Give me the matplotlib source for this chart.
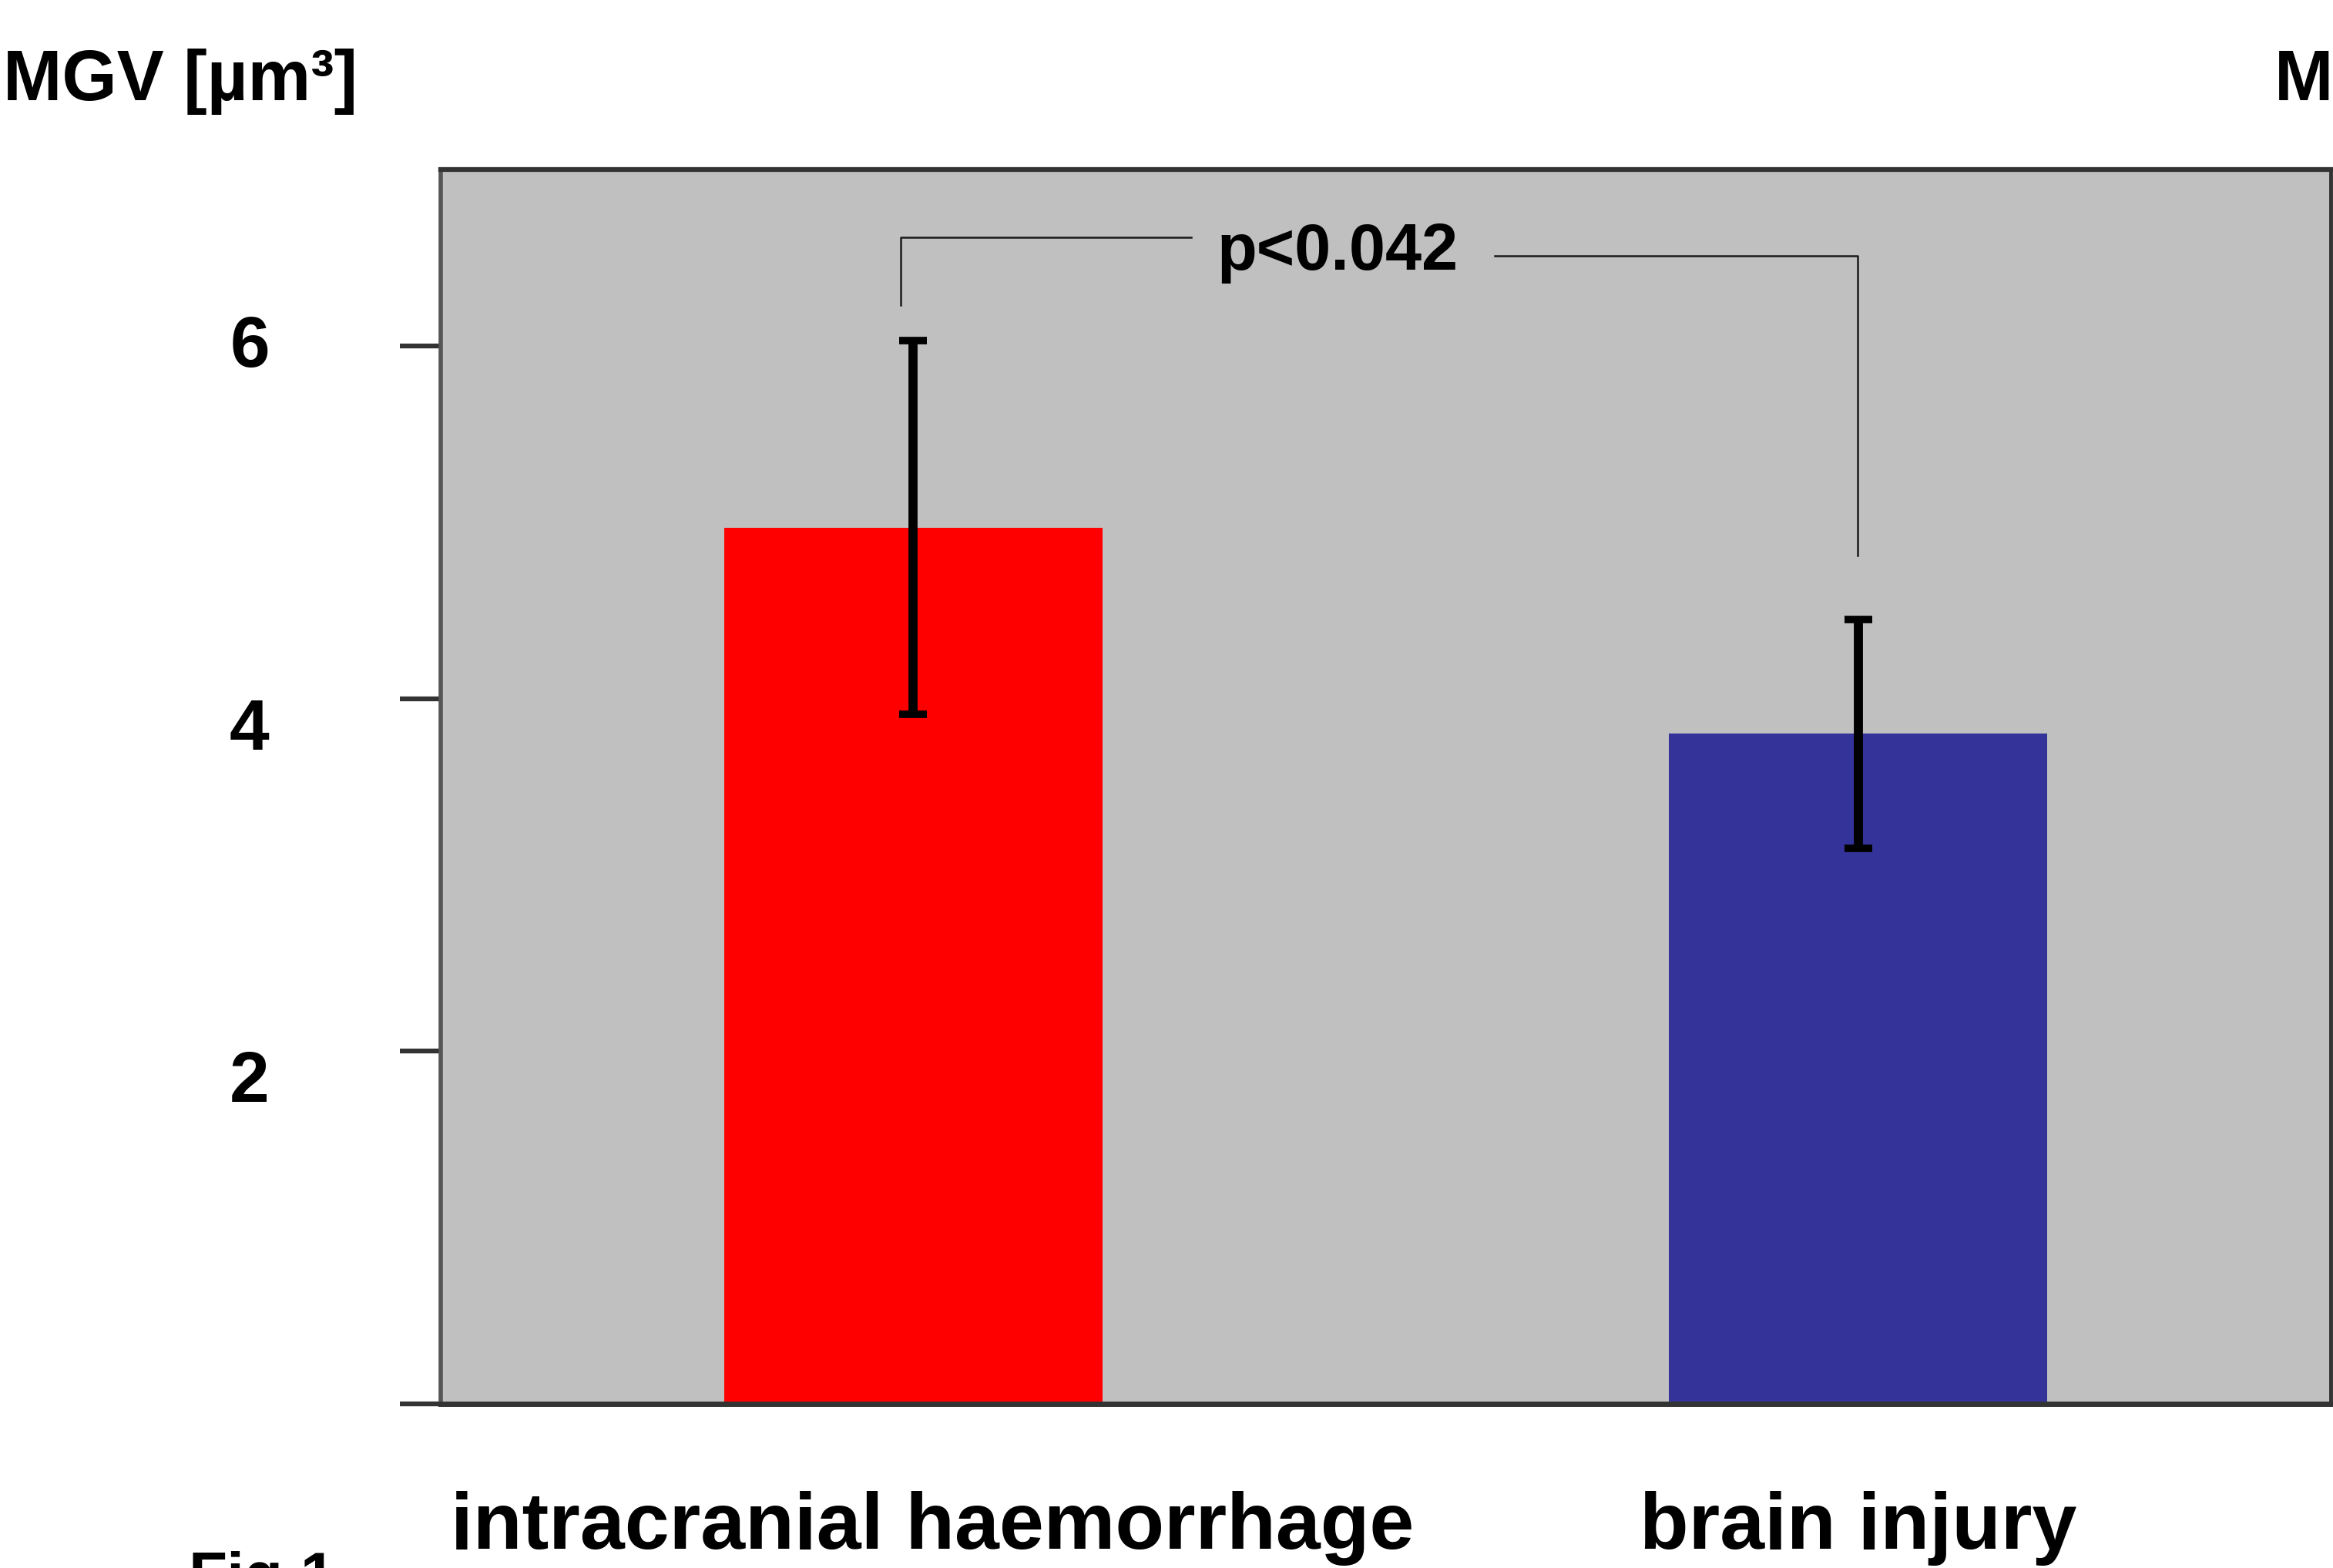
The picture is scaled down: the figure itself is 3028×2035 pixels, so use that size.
import matplotlib
matplotlib.use("Agg")
import matplotlib.pyplot as plt
import matplotlib.transforms as mtransforms

plt.rcParams['font.family'] = ['Liberation Sans', 'DejaVu Sans']

# ---- data ----
categories = ["intracranial haemorrhage", "brain injury"]
means = [4.97, 3.80]
errors = [1.06, 0.65]
bar_colors = ["#FF0000", "#333399"]
y_ticks = [0, 2, 4, 6]
y_tick_labels = ["", "2", "4", "6"]
y_label = "MGV [µm³]"
p_text = "p<0.042"
fig_label = "Fig.1"

W, H, DPI = 3028, 2035, 100
fig = plt.figure(figsize=(W / DPI, H / DPI), dpi=DPI)
fig.patch.set_facecolor("white")

ax = fig.add_axes([572 / W, 1 - 1822 / H, (3025 - 572) / W, (1822 - 220) / H])
ax.set_facecolor("#C0C0C0")

x = list(range(len(categories)))
ax.bar(x, means, width=0.4, color=bar_colors, zorder=2)
ax.errorbar(x, means, yerr=errors, fmt="none", ecolor="black",
            elinewidth=8.5, capsize=13, capthick=7, zorder=3)

ax.set_xlim(-0.5, 1.5)
ax.set_ylim(0, 7)

ax.set_xticks([])
ax.set_yticks(y_ticks)
ax.set_yticklabels(y_tick_labels, fontsize=67, fontweight="bold")
ax.tick_params(axis="y", length=38, width=4.5, color="#333333", pad=122)
# the original labels sit slightly off their ticks
label_shift_px = {"2": -32, "4": -33, "6": 6}
for lab in ax.get_yticklabels():
    dy = label_shift_px.get(lab.get_text(), 0)
    lab.set_transform(lab.get_transform() +
                      mtransforms.ScaledTranslation(0, dy / DPI, fig.dpi_scale_trans))

for side, lw, col in [("top", 4.5, "#333333"), ("bottom", 5, "#333333"),
                      ("left", 4, "#555555"), ("right", 3.5, "#333333")]:
    ax.spines[side].set_linewidth(lw)
    ax.spines[side].set_color(col)

# significance bracket
ax.plot([-0.013, -0.013, 0.294], [6.23, 6.616, 6.616], color="#1a1a1a", lw=1.8, zorder=4)
ax.plot([0.615, 0.999, 0.999], [6.511, 6.511, 4.81], color="#1a1a1a", lw=1.8, zorder=4)
ax.text(0.449, 6.53, p_text, ha="center", va="center", fontsize=61,
        fontweight="bold", zorder=5)

# category labels below axis (baseline at fixed figure height)
trans = mtransforms.blended_transform_factory(ax.transData, fig.transFigure)
for xi, cat in zip(x, categories):
    ax.text(xi + (0.02 if xi == 0 else 0.0), 1 - 2010 / H, cat, transform=trans,
            ha="center", va="baseline", fontsize=75, fontweight="bold",
            clip_on=False)

# y unit label and partial label of neighbouring panel
fig.text(4 / W, 1 - 130 / H, y_label, ha="left", va="baseline",
         fontsize=66, fontweight="bold")
fig.text(2952 / W, 1 - 130 / H, y_label, ha="left", va="baseline",
         fontsize=66, fontweight="bold")
fig.text(245 / W, 1 - 2072 / H, fig_label, ha="left", va="baseline",
         fontsize=59, fontweight="bold")

fig.savefig("out.png", dpi=DPI)
